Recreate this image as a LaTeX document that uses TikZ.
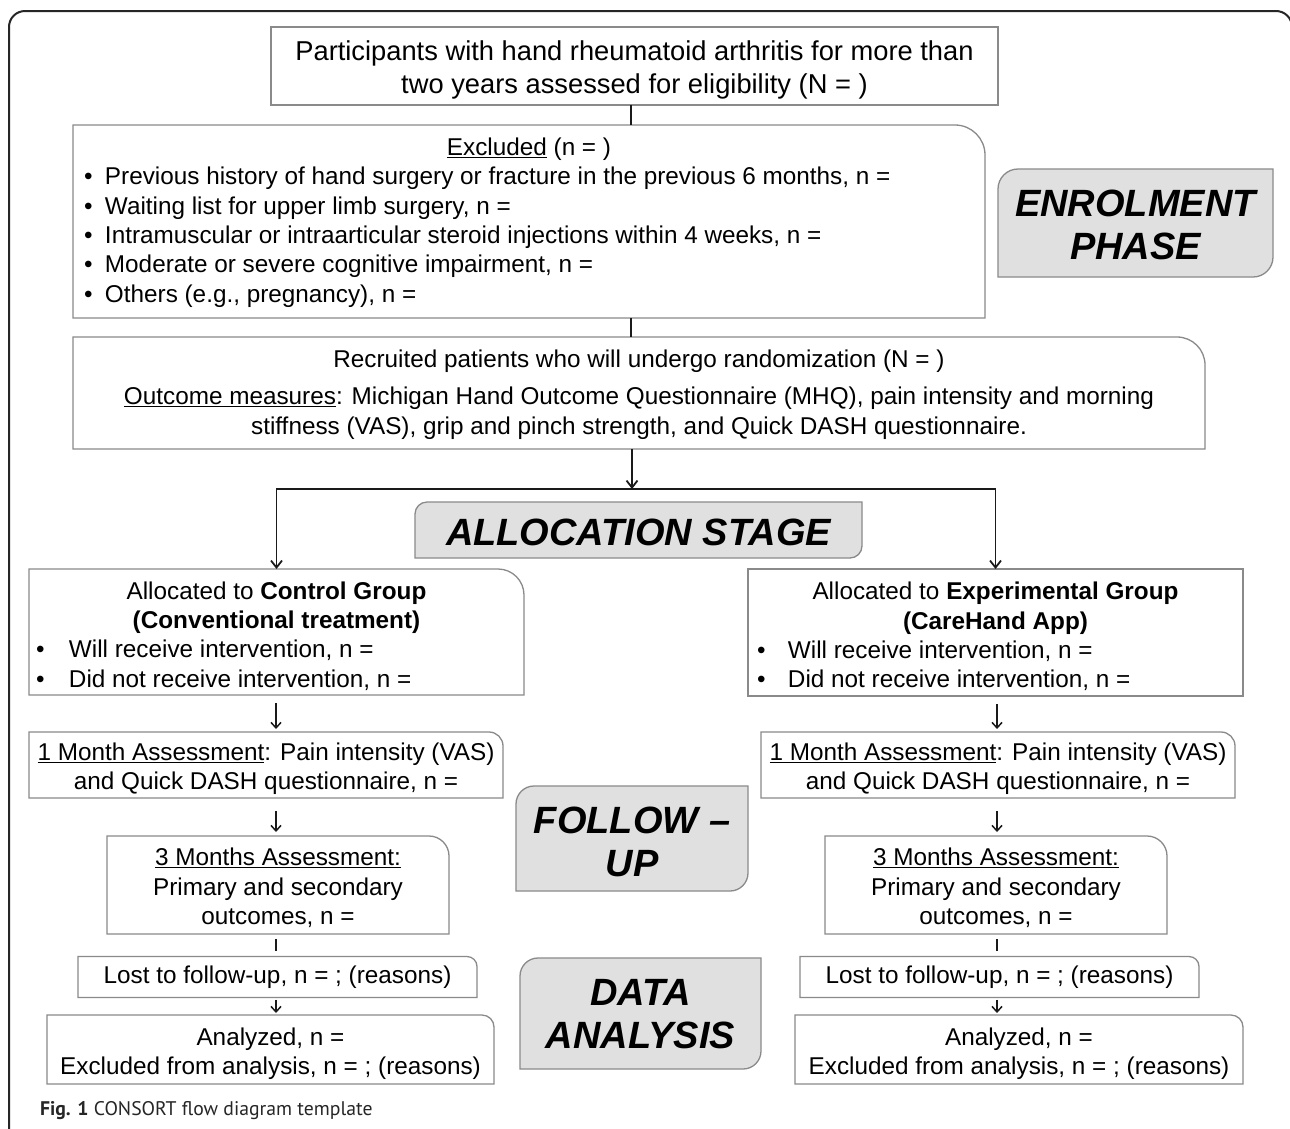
\documentclass[tikz,border=0pt]{standalone}
\usepackage{fontspec}
\setmainfont{Liberation Sans}
\newfontfamily\capfont{PT Sans}
\usetikzlibrary{arrows.meta,backgrounds,calc}
\definecolor{boxgray}{HTML}{8A8A8A}
\definecolor{phasefill}{HTML}{E0E0E0}
\definecolor{linedark}{HTML}{1A1A1A}
\newcommand\fsmain{\fontsize{24.3}{29.3}\selectfont}
\newcommand\fstop{\fontsize{27.3}{33}\selectfont}
\newcommand\fsphase{\fontsize{38}{43}\selectfont\bfseries\itshape}
\newcommand\mybul[1]{\makebox[#1][l]{\textbullet}}
\newcommand\trbox[2]{\draw[boxline] (#1.south west) -- (#1.north west) -- ([xshift=-#2]#1.north east) arc[start angle=90,end angle=0,radius=#2] -- (#1.south east) -- cycle;}
\newcommand\phbox[2]{\filldraw[phaseline] ([yshift=-#2]#1.north west) arc[start angle=180,end angle=90,radius=#2] -- (#1.north east) -- ([yshift=#2]#1.south east) arc[start angle=0,end angle=-90,radius=#2] -- (#1.south west) -- cycle;}
\newcommand\sqbox[1]{\draw[boxline] (#1.south west) rectangle (#1.north east);}
\begin{document}
\begin{tikzpicture}[x=1pt,y=-1pt,
  every node/.style={inner sep=0pt,outer sep=0pt,text=black},
  boxline/.style={draw=boxgray,line width=1.3pt},
  phaseline/.style={draw=boxgray,fill=phasefill,line width=1.3pt},
  conn/.style={draw=linedark,line width=1.8pt},
  arr/.style={conn,-{Straight Barb[length=7pt,width=11pt]}},
  glyph/.style={draw=linedark,line width=1.5pt,-{Straight Barb[length=5.5pt,width=10pt]}},
  frame/.style={shape=rectangle},
  tbox/.style={font=\fsmain,align=center},
  phase/.style={font=\fsphase,align=center}]
\useasboundingbox (0,0) rectangle (1290,1128);

% ---------- box shapes ----------
\node[frame,minimum width=727pt,minimum height=78pt] (top) at (634.5,66) {};
\node[frame,minimum width=912pt,minimum height=193pt] (excl) at (529,221.5) {};
\node[frame,minimum width=1132pt,minimum height=112pt] (rec) at (639,393) {};
\node[frame,minimum width=275pt,minimum height=108pt] (enrol) at (1135.5,223) {};
\node[frame,minimum width=447pt,minimum height=56pt] (alloc) at (638.5,530) {};
\node[frame,minimum width=232pt,minimum height=105pt] (follow) at (632,838.5) {};
\node[frame,minimum width=241pt,minimum height=111pt] (data) at (640.5,1013.5) {};
\node[frame,minimum width=495pt,minimum height=126pt] (ctrl) at (276.5,632) {};
\node[frame,minimum width=495pt,minimum height=127pt] (exp) at (995.5,632.5) {};
\node[frame,minimum width=474pt,minimum height=66pt] (m1l) at (266,765) {};
\node[frame,minimum width=474pt,minimum height=66pt] (m1r) at (998,765) {};
\node[frame,minimum width=342pt,minimum height=98pt] (m3l) at (278,885) {};
\node[frame,minimum width=342pt,minimum height=98pt] (m3r) at (996,885) {};
\node[frame,minimum width=399pt,minimum height=41pt] (lostl) at (277.5,977) {};
\node[frame,minimum width=399pt,minimum height=41pt] (lostr) at (999.5,977) {};
\node[frame,minimum width=447pt,minimum height=69pt] (anl) at (270.5,1049.5) {};
\node[frame,minimum width=448pt,minimum height=69pt] (anr) at (1019,1049.5) {};

% ---------- texts ----------
\node[tbox,font=\fstop] (topT) at ([yshift=-4pt]top.center)
 {Participants with hand rheumatoid arthritis for more than\\two years assessed for eligibility (N = )};
\node[tbox] (exclT) at ([yshift=-1pt]excl.center)
 {\parbox{890pt}{\centering\underline{Excluded} (n = )\par\raggedright
 \mybul{21pt}Previous history of hand surgery or fracture in the previous 6 months, n =\\
 \mybul{21pt}Waiting list for upper limb surgery, n =\\
 \mybul{21pt}Intramuscular or intraarticular steroid injections within 4 weeks, n =\\
 \mybul{21pt}Moderate or severe cognitive impairment, n =\\
 \mybul{21pt}Others (e.g., pregnancy), n =}};
\node[tbox] (recT) at ([yshift=-1.5pt]rec.center)
 {Recruited patients who will undergo randomization (N = )\\[8pt]\underline{Outcome measures}: Michigan Hand Outcome Questionnaire (MHQ), pain intensity and morning\\stiffness (VAS), grip and pinch strength, and Quick DASH questionnaire.};

\node[phase] (enrolT) at ([yshift=-2pt]enrol.center) {ENROLMENT\\PHASE};
\node[phase] (allocT) at ([yshift=-2.5pt]alloc.center) {ALLOCATION STAGE};
\node[phase] (followT) at ([yshift=-3pt]follow.center) {FOLLOW –\\UP};
\node[phase] (dataT) at ([yshift=-1pt]data.center) {DATA\\ANALYSIS};

\node[tbox] (ctrlT) at ([yshift=-4pt]ctrl.center)
 {\parbox{481pt}{\centering Allocated to \textbf{Control Group}\\\textbf{(Conventional treatment)}\par\raggedright
 \mybul{33pt}Will receive intervention, n =\\\mybul{33pt}Did not receive intervention, n =}};
\node[tbox] (expT) at ([yshift=-4pt]exp.center)
 {\parbox{477pt}{\centering Allocated to \textbf{Experimental Group}\\\textbf{(CareHand App)}\par\raggedright
 \mybul{31pt}Will receive intervention, n =\\\mybul{31pt}Did not receive intervention, n =}};

\node[tbox] (m1lT) at ([yshift=-4pt]m1l.center)
 {\underline{1 Month Assessment}: Pain intensity (VAS)\\and Quick DASH questionnaire, n =};
\node[tbox] (m1rT) at ([yshift=-4pt]m1r.center)
 {\underline{1 Month Assessment}: Pain intensity (VAS)\\and Quick DASH questionnaire, n =};
\node[tbox] (m3lT) at ([yshift=-3pt]m3l.center)
 {\underline{3 Months Assessment:}\\Primary and secondary\\outcomes, n =};
\node[tbox] (m3rT) at ([yshift=-3pt]m3r.center)
 {\underline{3 Months Assessment:}\\Primary and secondary\\outcomes, n =};

\node[tbox] (lostlT) at (lostl.center) {Lost to follow-up, n = ; (reasons)};
\node[tbox] (lostrT) at (lostr.center) {Lost to follow-up, n = ; (reasons)};
\node[tbox] (anlT) at ([yshift=-4pt]anl.center) {Analyzed, n =\\Excluded from analysis, n = ; (reasons)};
\node[tbox] (anrT) at ([yshift=-4pt]anr.center) {Analyzed, n =\\Excluded from analysis, n = ; (reasons)};

\node[anchor=west,font=\capfont\fontsize{19.7}{23}\selectfont,text=black!85] (cap) at (40,1111)
 {\textbf{Fig. 1} CONSORT flow diagram template};

% ---------- outlines ----------
\begin{scope}[on background layer]
\fill[white] (0,0) rectangle (1290,1128);
\draw[line width=2pt,draw=black!85] (9,1140) -- (9,27) arc[start angle=180,end angle=90,radius=16pt] -- (1276,11) arc[start angle=90,end angle=0,radius=16pt] -- (1292,1140);
\sqbox{top}
\trbox{excl}{30pt}
\trbox{rec}{28pt}
\phbox{enrol}{20pt}
\phbox{alloc}{12pt}
\phbox{follow}{18pt}
\phbox{data}{18pt}
\trbox{ctrl}{26pt}
\sqbox{exp}
\trbox{m1l}{14pt}
\trbox{m1r}{14pt}
\trbox{m3l}{20pt}
\trbox{m3r}{20pt}
\trbox{lostl}{10pt}
\trbox{lostr}{10pt}
\trbox{anl}{12pt}
\trbox{anr}{12pt}
\end{scope}

% ---------- connectors ----------
\coordinate (vx) at (631,0);
\coordinate (split) at (632,489);
\coordinate (lx) at (276,0);
\coordinate (rx) at (997,0);
\draw[conn] (top.south -| vx) -- (excl.north -| vx);
\draw[conn] (excl.south -| vx) -- (rec.north -| vx);
\draw[arr] (rec.south -| split) -- (split);
\draw[arr] (split) -| (ctrl.north);
\draw[arr] (split) -| (exp.north);

\draw[glyph,shorten <=8pt,shorten >=3pt] (ctrl.south -| lx) -- (m1l.north -| lx);
\draw[glyph,shorten <=13pt,shorten >=4pt] (m1l.south -| lx) -- (m3l.north -| lx);
\draw[draw=linedark,line width=1.5pt,shorten <=5pt,shorten >=6pt] (m3l.south -| lx) -- (lostl.north -| lx);
\draw[glyph,shorten <=2pt,shorten >=2pt] (lostl.south -| lx) -- (anl.north -| lx);

\draw[glyph,shorten <=8pt,shorten >=3pt] (exp.south -| rx) -- (m1r.north -| rx);
\draw[glyph,shorten <=13pt,shorten >=4pt] (m1r.south -| rx) -- (m3r.north -| rx);
\draw[draw=linedark,line width=1.5pt,shorten <=5pt,shorten >=6pt] (m3r.south -| rx) -- (lostr.north -| rx);
\draw[glyph,shorten <=2pt,shorten >=2pt] (lostr.south -| rx) -- (anr.north -| rx);
\end{tikzpicture}
\end{document}
